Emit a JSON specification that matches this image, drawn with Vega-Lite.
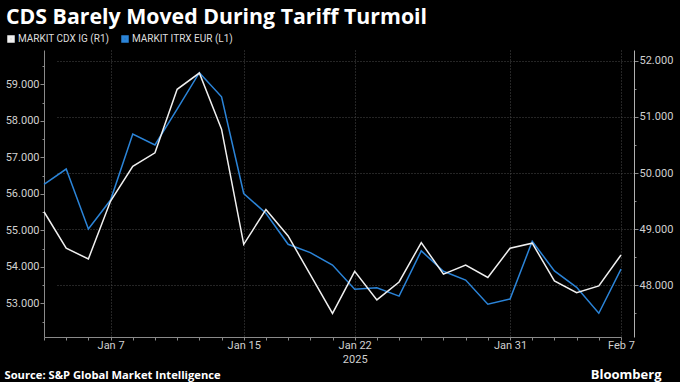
{
  "$schema": "https://vega.github.io/schema/vega-lite/v6.json",
  "width": 590,
  "height": 287,
  "autosize": {"type": "none"},
  "padding": {"left": 44, "top": 50, "right": 46, "bottom": 45},
  "background": "#000000",
  "title": {
    "text": "CDS Barely Moved During Tariff Turmoil",
    "anchor": "start",
    "frame": "group",
    "dx": -38,
    "offset": 6,
    "font": "Open Sans",
    "fontWeight": "bold",
    "fontSize": 21.3,
    "color": "#ffffff"
  },
  "config": {
    "view": {"stroke": null},
    "axis": {
      "labelFont": "Roboto",
      "labelFontSize": 11,
      "labelColor": "#d0d0d0",
      "domainColor": "#8a8a8a",
      "tickColor": "#8a8a8a",
      "gridColor": "#4a4a4a",
      "gridDash": [1, 2],
      "gridWidth": 1
    }
  },
  "data": {
    "values": [
      {"date": "Jan 2", "itrx": 56.26, "cdx": 49.31},
      {"date": "Jan 3", "itrx": 56.68, "cdx": 48.66},
      {"date": "Jan 6", "itrx": 55.04, "cdx": 48.47},
      {"date": "Jan 7", "itrx": 55.83, "cdx": 49.5},
      {"date": "Jan 8", "itrx": 57.64, "cdx": 50.12},
      {"date": "Jan 9", "itrx": 57.34, "cdx": 50.36},
      {"date": "Jan 10", "itrx": 58.32, "cdx": 51.49},
      {"date": "Jan 13", "itrx": 59.32, "cdx": 51.78},
      {"date": "Jan 14", "itrx": 58.66, "cdx": 50.78},
      {"date": "Jan 15", "itrx": 56.01, "cdx": 48.73},
      {"date": "Jan 16", "itrx": 55.47, "cdx": 49.35},
      {"date": "Jan 17", "itrx": 54.62, "cdx": 48.88},
      {"date": "Jan 20", "itrx": 54.39, "cdx": 48.19},
      {"date": "Jan 21", "itrx": 54.05, "cdx": 47.5},
      {"date": "Jan 22", "itrx": 53.39, "cdx": 48.25},
      {"date": "Jan 23", "itrx": 53.43, "cdx": 47.74},
      {"date": "Jan 24", "itrx": 53.2, "cdx": 48.06},
      {"date": "Jan 27", "itrx": 54.44, "cdx": 48.76},
      {"date": "Jan 28", "itrx": 53.88, "cdx": 48.2},
      {"date": "Jan 29", "itrx": 53.64, "cdx": 48.36},
      {"date": "Jan 30", "itrx": 52.98, "cdx": 48.14},
      {"date": "Jan 31", "itrx": 53.12, "cdx": 48.66},
      {"date": "Feb 3", "itrx": 54.7, "cdx": 48.75},
      {"date": "Feb 4", "itrx": 53.89, "cdx": 48.08},
      {"date": "Feb 5", "itrx": 53.44, "cdx": 47.87},
      {"date": "Feb 6", "itrx": 52.73, "cdx": 47.99},
      {"date": "Feb 7", "itrx": 53.94, "cdx": 48.54}
    ]
  },
  "encoding": {
    "x": {
      "field": "date",
      "type": "ordinal",
      "sort": null,
      "scale": {"type": "point", "range": [0, 577], "padding": 0},
      "axis": {
        "title": "Source: S&P Global Market Intelligence",
        "titleFont": "Open Sans",
        "titleFontWeight": "bold",
        "titleFontSize": 11.2,
        "titleColor": "#ffffff",
        "titleAnchor": "start",
        "titleAlign": "left",
        "titleBaseline": "alphabetic",
        "titleX": -40,
        "titleY": 41,
        "labelAngle": 0,
        "labelPadding": -1,
        "labelLineHeight": 14,
        "labelExpr": "datum.value == 'Jan 22' ? ['Jan 22', '2025'] : (indexof(['Jan 7','Jan 15','Jan 31','Feb 7'], datum.value) >= 0 ? datum.value : '')",
        "tickSize": 3,
        "grid": true,
        "gridOpacity": {
          "condition": {"test": "indexof(['Jan 7','Jan 15','Jan 22','Jan 31','Feb 7'], datum.value) >= 0", "value": 1},
          "value": 0
        }
      }
    }
  },
  "layer": [
    {
      "mark": {"type": "line", "strokeWidth": 1.5},
      "encoding": {
        "y": {
          "field": "itrx",
          "type": "quantitative",
          "scale": {"domain": [52.08, 59.94], "zero": false, "nice": false},
          "axis": {
            "orient": "left",
            "title": null,
            "grid": false,
            "values": [52.5, 53, 53.5, 54, 54.5, 55, 55.5, 56, 56.5, 57, 57.5, 58, 58.5, 59, 59.5],
            "labelExpr": "datum.value % 1 == 0 ? format(datum.value, '.3f') : ''",
            "tickSize": {"condition": {"test": "datum.value % 1 == 0", "value": 4}, "value": 2},
            "labelPadding": 1
          }
        },
        "color": {
          "datum": "MARKIT ITRX EUR (L1)",
          "type": "nominal",
          "scale": {"domain": ["MARKIT CDX IG (R1)", "MARKIT ITRX EUR (L1)"], "range": ["#f0f0f0", "#2b84d8"]},
          "legend": {
            "title": null,
            "orient": "none",
            "direction": "horizontal",
            "legendX": -38,
            "legendY": -16,
            "symbolType": "square",
            "symbolSize": 16,
            "symbolStrokeWidth": 3.5,
            "labelFont": "Roboto",
            "labelFontSize": 10,
            "labelColor": "#dddddd",
            "labelOffset": 2,
            "columnPadding": 6
          }
        }
      }
    },
    {
      "mark": {"type": "line", "strokeWidth": 1.5},
      "encoding": {
        "y": {
          "field": "cdx",
          "type": "quantitative",
          "scale": {"domain": [47.08, 52.19], "zero": false, "nice": false},
          "axis": {
            "orient": "right",
            "title": "Bloomberg",
            "titleAngle": 0,
            "titleFont": "Open Sans",
            "titleFontWeight": "bold",
            "titleFontSize": 13,
            "titleColor": "#ffffff",
            "titleAlign": "right",
            "titleBaseline": "alphabetic",
            "titleX": 27,
            "titleY": 328,
            "domainColor": "#b0b0b0",
            "grid": true,
            "values": [47.5, 48, 48.5, 49, 49.5, 50, 50.5, 51, 51.5, 52],
            "gridOpacity": {"condition": {"test": "datum.value % 1 == 0", "value": 1}, "value": 0},
            "labelExpr": "datum.value % 1 == 0 ? format(datum.value, '.3f') : ''",
            "tickSize": {"condition": {"test": "datum.value % 1 == 0", "value": 4}, "value": 2},
            "labelPadding": 1
          }
        },
        "color": {"datum": "MARKIT CDX IG (R1)", "type": "nominal"}
      }
    }
  ],
  "resolve": {"scale": {"y": "independent"}}
}
